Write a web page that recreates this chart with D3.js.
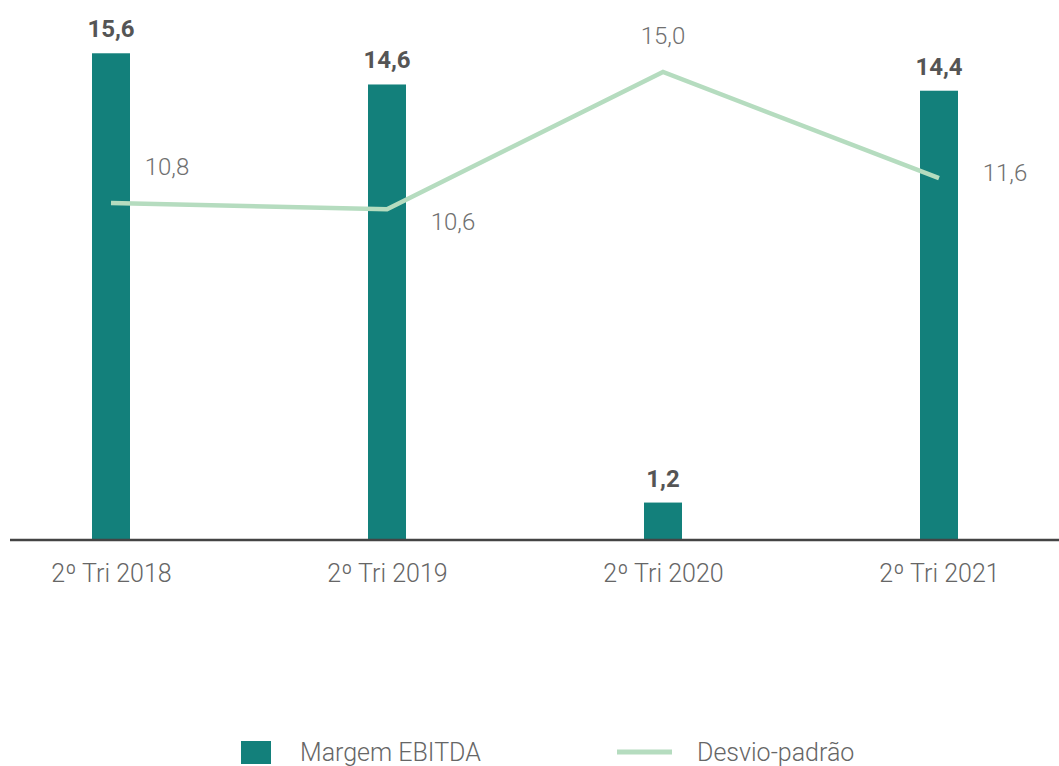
<!DOCTYPE html>
<html>
<head>
<meta charset="utf-8">
<script src="https://cdn.jsdelivr.net/npm/d3@7"></script>
<style>
  body { margin: 0; background: #fff; }
  svg { font-family: Roboto, "Noto Sans", sans-serif; }
</style>
</head>
<body>
<svg width="1059" height="766"></svg>
<script>
// data
var categories = ["2º Tri 2018", "2º Tri 2019", "2º Tri 2020", "2º Tri 2021"];
var margem = [15.6, 14.6, 1.2, 14.4];
var desvio = [10.8, 10.6, 15.0, 11.6];
// where each line label sits relative to its point
var desvioLabelOffset = [[56, -36], [66, 12], [0, -36], [66, -5]];

var svg = d3.select("svg"),
    width = +svg.attr("width"),
    height = +svg.attr("height"),
    baseY = 540,
    barWidth = 38,
    barColor = "#13807b",
    lineColor = "#b5dcbf";

var fmt = function(v) { return d3.format(".1f")(v).replace(".", ","); };

var x = d3.scalePoint()
    .domain(categories)
    .range([111, 939]);

var y = d3.scaleLinear()
    .domain([0, 16])
    .range([baseY, baseY - 16 * 31.2]);

// bars
svg.append("g")
  .selectAll("rect")
  .data(margem)
  .enter().append("rect")
    .attr("x", function(d, i) { return x(categories[i]) - barWidth / 2; })
    .attr("y", function(d) { return y(d); })
    .attr("width", barWidth)
    .attr("height", function(d) { return y(0) - y(d); })
    .style("fill", barColor);

// bar value labels
svg.append("g")
  .selectAll("text")
  .data(margem)
  .enter().append("text")
    .attr("x", function(d, i) { return x(categories[i]); })
    .attr("y", function(d) { return y(d) - 16; })
    .attr("text-anchor", "middle")
    .style("font-size", "24px")
    .style("font-weight", "bold")
    .style("fill", "#555")
    .text(fmt);

// axis
var xAxis = svg.append("g")
    .attr("transform", "translate(0," + baseY + ")")
    .call(d3.axisBottom(x).tickSize(0).tickPadding(24));
xAxis.select(".domain").remove();
xAxis.append("line")
    .attr("x1", 10).attr("x2", width)
    .style("stroke", "#444")
    .style("stroke-width", 2.5);
xAxis.selectAll("text")
    .style("font-size", "25px")
    .style("font-family", "Roboto")
    .style("font-weight", 300)
    .style("fill", "#666");

// line
var line = d3.line()
    .x(function(d, i) { return x(categories[i]); })
    .y(function(d) { return y(d); });

svg.append("path")
    .datum(desvio)
    .attr("d", line)
    .style("fill", "none")
    .style("stroke", lineColor)
    .style("stroke-width", 4.5);

svg.append("g")
  .selectAll("text")
  .data(desvio)
  .enter().append("text")
    .attr("x", function(d, i) { return x(categories[i]) + desvioLabelOffset[i][0]; })
    .attr("y", function(d, i) { return y(d) + desvioLabelOffset[i][1]; })
    .attr("dy", "0.35em")
    .attr("text-anchor", "middle")
    .style("font-size", "24px")
    .style("font-weight", 300)
    .style("fill", "#707070")
    .text(fmt);

// legend
var legend = svg.append("g")
    .attr("transform", "translate(0,752)");

legend.append("rect")
    .attr("x", 241).attr("y", -11)
    .attr("width", 30).attr("height", 23)
    .style("fill", barColor);
legend.append("text")
    .attr("x", 300).attr("dy", "0.35em")
    .style("font-size", "25px")
    .style("font-weight", 300)
    .style("fill", "#666")
    .text("Margem EBITDA");

legend.append("line")
    .attr("x1", 617).attr("x2", 672)
    .style("stroke", lineColor)
    .style("stroke-width", 5);
legend.append("text")
    .attr("x", 697).attr("dy", "0.35em")
    .style("font-size", "25px")
    .style("font-weight", 300)
    .style("fill", "#666")
    .text("Desvio-padrão");
</script>
</body>
</html>
